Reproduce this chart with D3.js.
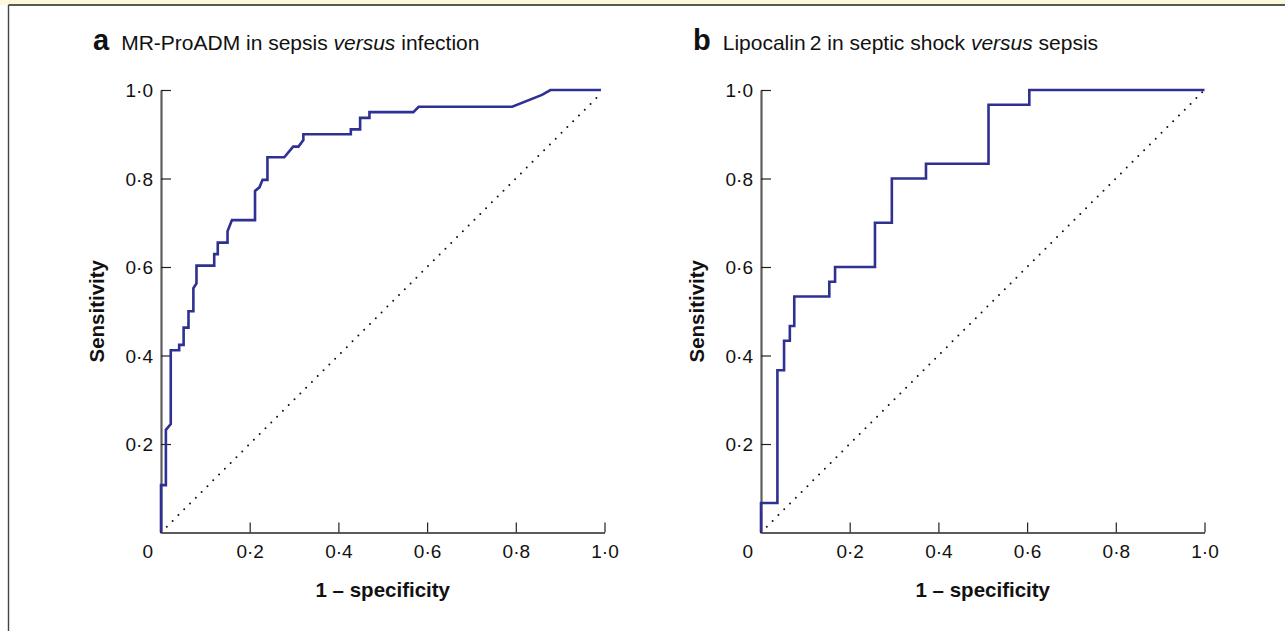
<!DOCTYPE html>
<html>
<head>
<meta charset="utf-8">
<script src="https://cdn.jsdelivr.net/npm/d3@7"></script>
<style>
  html, body { margin: 0; padding: 0; background: #fff; }
  svg { display: block; font-family: "Liberation Sans", Arial, Helvetica, sans-serif; }
</style>
</head>
<body>
<div id="chart"></div>
<script>
var W = 1285, H = 631
var plotW = 443.5, plotH = 442.5

// panel a: MR-ProADM, sepsis vs infection
var fprA = [0, 0, 0.011, 0.011, 0.022, 0.022, 0.041, 0.041, 0.051, 0.051, 0.062, 0.062, 0.073, 0.073, 0.080, 0.080,
            0.120, 0.120, 0.128, 0.128, 0.150, 0.150, 0.160, 0.212, 0.212, 0.222, 0.229, 0.240, 0.240, 0.278, 0.298,
            0.310, 0.321, 0.321, 0.428, 0.428, 0.449, 0.449, 0.470, 0.470, 0.569, 0.581, 0.792, 0.859, 0.878, 0.992]
var tprA = [0, 0.107, 0.107, 0.232, 0.245, 0.412, 0.412, 0.424, 0.424, 0.463, 0.463, 0.500, 0.500, 0.552, 0.563, 0.603,
            0.603, 0.629, 0.629, 0.655, 0.655, 0.681, 0.706, 0.706, 0.772, 0.780, 0.797, 0.797, 0.848, 0.848, 0.872,
            0.872, 0.887, 0.900, 0.900, 0.911, 0.911, 0.937, 0.937, 0.950, 0.950, 0.962, 0.962, 0.989, 1.000, 1.000]

// panel b: Lipocalin 2, septic shock vs sepsis
var fprB = [0, 0, 0.037, 0.037, 0.052, 0.052, 0.065, 0.065, 0.075, 0.075, 0.154, 0.154, 0.167, 0.167, 0.257, 0.257,
            0.295, 0.295, 0.372, 0.372, 0.513, 0.513, 0.605, 0.605, 1.0]
var tprB = [0, 2/30, 2/30, 11/30, 11/30, 13/30, 13/30, 14/30, 14/30, 16/30, 16/30, 17/30, 17/30, 18/30, 18/30, 21/30,
            21/30, 24/30, 24/30, 25/30, 25/30, 29/30, 29/30, 1, 1]

var diagA = [0, 0.99]
var diagB = [0, 1]
var tickVals = [0.2, 0.4, 0.6, 0.8, 1.0]

var panels = [
    { left: 161, letter: "a", pre: "MR-ProADM in sepsis ", post: " infection", fpr: fprA, tpr: tprA, diag: diagA },
    { left: 761, letter: "b", pre: "Lipocalin\u20092 in septic shock ", post: " sepsis", fpr: fprB, tpr: tprB, diag: diagB }
]

var svg = d3.select("#chart").append("svg")
    .attr("width", W)
    .attr("height", H)

// frame bits
svg.append("rect").attr("x", 0).attr("y", 0).attr("width", W).attr("height", 5).attr("fill", "#fcf8d9")
svg.append("line").attr("x1", 8.5).attr("x2", W).attr("y1", 5).attr("y2", 5).attr("stroke", "#222").attr("stroke-width", 1.6)
svg.append("line").attr("x1", 8.5).attr("x2", 8.5).attr("y1", 5).attr("y2", H).attr("stroke", "#444").attr("stroke-width", 1.4)

var fmt = function(d) { return d3.format(".1f")(d).replace(".", "\u00b7") }

panels.forEach(function(p) {
    var x = d3.scaleLinear().domain([0, 1]).range([0, plotW])
    var y = d3.scaleLinear().domain([0, 1]).range([plotH, 0])

    // title
    var t = svg.append("text")
        .attr("x", p.left - 68)
        .attr("y", 50)
        .attr("fill", "#111")
    t.append("tspan").attr("font-weight", "bold").attr("font-size", "29px").text(p.letter)
    t.append("tspan").attr("dx", 12).attr("font-size", "21px").text(p.pre)
    t.append("tspan").attr("font-size", "21px").attr("font-style", "italic").text("versus")
    t.append("tspan").attr("font-size", "21px").text(p.post)

    var g = svg.append("g").attr("transform", "translate(" + p.left + ",90)")

    var xAxis = g.append("g")
        .attr("transform", "translate(0," + plotH + ")")
        .call(d3.axisBottom(x).tickValues(tickVals).tickSizeInner(-10).tickSizeOuter(0).tickFormat(fmt))
    xAxis.select(".domain").attr("stroke", "#5c5c5c").attr("stroke-width", 2.2)
    xAxis.selectAll(".tick line").attr("stroke", "#222").attr("stroke-width", 1.2)
    xAxis.selectAll(".tick text")
        .attr("y", 25.5).attr("dy", 0)
        .attr("font-size", "19px").attr("font-family", null).attr("fill", "#111")

    var yAxis = g.append("g")
        .call(d3.axisLeft(y).tickValues(tickVals).tickSizeInner(-10).tickSizeOuter(0).tickFormat(fmt))
    yAxis.select(".domain").attr("stroke", "#5c5c5c").attr("stroke-width", 2.2)
    yAxis.selectAll(".tick line").attr("stroke", "#222").attr("stroke-width", 1.2)
    yAxis.selectAll(".tick text")
        .attr("x", -8).attr("dy", "0.35em")
        .attr("font-size", "19px").attr("font-family", null).attr("fill", "#111")

    g.append("text")
        .attr("x", -8).attr("y", plotH + 25.5)
        .attr("text-anchor", "end")
        .attr("font-size", "19px").attr("fill", "#111")
        .text("0")

    // axis titles
    g.append("text")
        .attr("transform", "translate(-57," + plotH / 2 + ") rotate(-90)")
        .attr("text-anchor", "middle")
        .attr("font-weight", "bold").attr("font-size", "20.5px").attr("fill", "#111")
        .text("Sensitivity")
    g.append("text")
        .attr("x", plotW / 2).attr("y", plotH + 64)
        .attr("text-anchor", "middle")
        .attr("font-weight", "bold").attr("font-size", "20.5px").attr("fill", "#111")
        .text("1 \u2013 specificity")

    // chance line
    g.append("path")
        .datum(p.diag)
        .attr("d", d3.line().x(function(d) { return x(d) }).y(function(d) { return y(d) }))
        .attr("fill", "none")
        .attr("stroke", "#111")
        .attr("stroke-width", 2)
        .attr("stroke-linecap", "round")
        .attr("stroke-dasharray", "0,8.2")

    // roc curve
    var pts = p.fpr.map(function(f, i) { return [f, p.tpr[i]] })
    g.append("path")
        .datum(pts)
        .attr("d", d3.line().x(function(d) { return x(d[0]) }).y(function(d) { return y(d[1]) }))
        .attr("fill", "none")
        .attr("stroke", "#2e3192")
        .attr("stroke-width", 2.6)
})
</script>
</body>
</html>
